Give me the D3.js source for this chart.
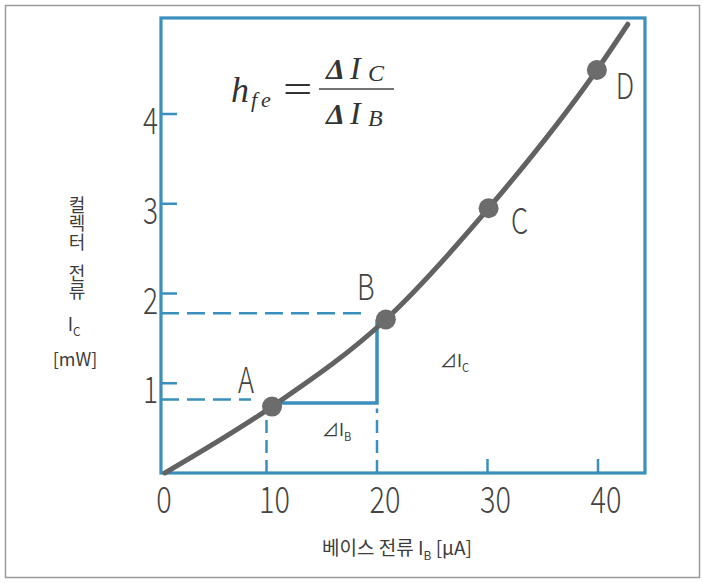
<!DOCTYPE html>
<html><head><meta charset="utf-8">
<script src="https://cdn.jsdelivr.net/npm/d3@7/dist/d3.min.js"></script>
<style>
html,body{margin:0;padding:0;background:#fff;}
svg{display:block;}
</style></head>
<body>
<script>
// ---- data ----
const xTicks = [0, 10, 20, 30, 40];
const yTicks = [1, 2, 3, 4];
const curveIb = [0.8, 10.5, 20.8, 30.1, 39.9, 42.7];
const curveIc = [0, 0.74, 1.71, 2.95, 4.49, 5.0];
const pointNames = ["A", "B", "C", "D"];
const pointIb = [10.5, 20.8, 30.1, 39.9];
const pointIc = [0.74, 1.71, 2.95, 4.49];
const guideIb = [10, 20];          // dashed verticals
const guideIc = [0.82, 1.78];      // dashed horizontals
const guideIbEnd = [0.74, 0.72];   // top of dashed verticals (Ic)
const guideIcEnd = [8.6, 18.9];    // end of dashed horizontals (Ib)
const triIb = [10.5, 20];          // delta triangle
const triIc = [0.78, 1.71];
const yLabelText = "컬렉터 전류";

const W = 703, H = 583;
const blue = "#3a8fbc", gray = "#626262", txt = "#3c3c3c";
const thinFont = "'Noto Sans CJK KR','Noto Sans',sans-serif";
const krFont = "'Noto Sans CJK KR','Noto Sans',sans-serif";
const serif = "'Liberation Serif','DejaVu Serif',serif";

const x = d3.scaleLinear().domain([0, 40]).range([156, 598]);
const y = d3.scaleLinear().domain([0, 4]).range([473, 114]);

const svg = d3.select("body").append("svg").attr("width", W).attr("height", H);
svg.append("rect").attr("x", 0).attr("y", 0).attr("width", W).attr("height", H).attr("fill", "#fff");
svg.append("rect").attr("x", 5.5).attr("y", 5.5).attr("width", 694).attr("height", 572)
  .attr("fill", "none").attr("stroke", "#9a9a9a").attr("stroke-width", 1.5);

// narrow thin text helper
function thin(g, tx, ty, s, size, anchor) {
  return g.append("text").attr("transform", `translate(${tx},${ty}) scale(0.78,1)`)
    .attr("text-anchor", anchor || "middle").attr("font-family", thinFont)
    .attr("font-weight", 300).attr("font-size", size).attr("fill", "#444").text(s);
}

// frame
const fx0 = x(0.45), fx1 = x(44.25), fy0 = y(5.07), fy1 = y(0);
svg.append("rect").attr("x", fx0).attr("y", fy0).attr("width", fx1 - fx0).attr("height", fy1 - fy0)
  .attr("fill", "none").attr("stroke", blue).attr("stroke-width", 3.2);

// y ticks
svg.selectAll(".yt").data(yTicks).join("line")
  .attr("x1", fx0).attr("x2", fx0 + 16).attr("y1", d => y(d)).attr("y2", d => y(d))
  .attr("stroke", blue).attr("stroke-width", 2.5);
yTicks.forEach(d => thin(svg, fx0 - 3, y(d) + 20, d, 36, "end"));

// x ticks (30, 40 as marks)
svg.selectAll(".xt").data(xTicks.filter(d => d >= 30)).join("line")
  .attr("x1", d => x(d)).attr("x2", d => x(d)).attr("y1", fy1).attr("y2", fy1 - 14)
  .attr("stroke", blue).attr("stroke-width", 2.5);
xTicks.forEach(d => thin(svg, x(d) + 8, 513, d, 37));

// dashed guides
guideIb.forEach((v, i) => {
  svg.append("line").attr("x1", x(v)).attr("x2", x(v)).attr("y1", fy1).attr("y2", y(guideIbEnd[i]))
    .attr("stroke", blue).attr("stroke-width", 2.5).attr("stroke-dasharray", "13,7");
});
guideIc.forEach((v, i) => {
  svg.append("line").attr("x1", fx0).attr("x2", x(guideIcEnd[i])).attr("y1", y(v)).attr("y2", y(v))
    .attr("stroke", blue).attr("stroke-width", 2.5).attr("stroke-dasharray", "18,8");
});

// delta triangle
svg.append("path")
  .attr("d", `M${x(triIb[0])},${y(triIc[0])}H${x(triIb[1])}V${y(triIc[1])}`)
  .attr("fill", "none").attr("stroke", blue).attr("stroke-width", 3.5);

// curve
const curveData = curveIb.map((v, i) => [v, curveIc[i]]);
svg.append("path").datum(curveData)
  .attr("d", d3.line().x(d => x(d[0])).y(d => y(d[1])).curve(d3.curveMonotoneX))
  .attr("fill", "none").attr("stroke", gray).attr("stroke-width", 5).attr("stroke-linecap", "round");

// points
const labelOff = [[-26, -14], [-20, -20], [31, 26], [28, 29]];
svg.selectAll(".pt").data(pointNames).join("circle")
  .attr("cx", (d, i) => x(pointIb[i])).attr("cy", (d, i) => y(pointIc[i])).attr("r", 10)
  .attr("fill", "#6c6c6c");
pointNames.forEach((d, i) => thin(svg, x(pointIb[i]) + labelOff[i][0], y(pointIc[i]) + labelOff[i][1], d, 35));

// delta labels
function sub(sel, main, s, fs) {
  sel.append("tspan").text(main);
  sel.append("tspan").attr("font-size", fs * 0.65).attr("dy", fs * 0.28).text(s);
}
const dB = svg.append("text").attr("x", 322).attr("y", 436).attr("font-family", krFont).attr("font-size", 17).attr("fill", txt);
sub(dB, "⊿I", "B", 17);
const dC = svg.append("text").attr("x", 440).attr("y", 367).attr("font-family", krFont).attr("font-size", 17).attr("fill", txt);
sub(dC, "⊿I", "C", 17);

// y axis label (vertical)
svg.append("text").attr("x", 77).attr("y", 196)
  .style("writing-mode", "vertical-rl").style("text-orientation", "upright")
  .attr("font-family", krFont).attr("font-size", 18).attr("letter-spacing", 0.5)
  .attr("word-spacing", -6).attr("fill", txt).text(yLabelText);
const ic = svg.append("text").attr("x", 74).attr("y", 331).attr("text-anchor", "middle")
  .attr("font-family", krFont).attr("font-size", 18).attr("fill", txt);
sub(ic, "I", "C", 18);
svg.append("text").attr("x", 75).attr("y", 366).attr("text-anchor", "middle")
  .attr("font-family", krFont).attr("font-size", 18).attr("fill", txt).text("[mW]");

// x axis label
const xl = svg.append("text").attr("x", 397).attr("y", 555).attr("text-anchor", "middle")
  .attr("font-family", krFont).attr("font-size", 19).attr("fill", txt);
xl.append("tspan").text("베이스 전류 I");
xl.append("tspan").attr("font-size", 12).attr("dy", 5).text("B");
xl.append("tspan").attr("dy", -5).text(" [μA]");

// formula
const f = svg.append("g").attr("fill", "#333").attr("font-family", serif).attr("font-style", "italic");
f.append("text").attr("x", 231).attr("y", 102).attr("font-size", 36).text("h");
f.append("text").attr("x", 251).attr("y", 107).attr("font-size", 22).attr("letter-spacing", 4).text("fe");
f.append("text").attr("x", 283).attr("y", 103).attr("font-size", 40).attr("font-style", "normal")
  .attr("transform", "translate(283,0) scale(1.3,1) translate(-283,0)").text("=");
f.append("line").attr("x1", 319).attr("x2", 394).attr("y1", 89).attr("y2", 89).attr("stroke", "#444").attr("stroke-width", 1.6);
[[79, "C"], [124, "B"]].forEach(([by, s]) => {
  f.append("text").attr("x", 326).attr("y", by).attr("font-size", 30).attr("font-weight", "bold").text("Δ");
  f.append("text").attr("x", 350).attr("y", by).attr("font-size", 32).text("I");
  f.append("text").attr("x", 368).attr("y", by + 2).attr("font-size", 24).text(s);
});
</script>
</body></html>
